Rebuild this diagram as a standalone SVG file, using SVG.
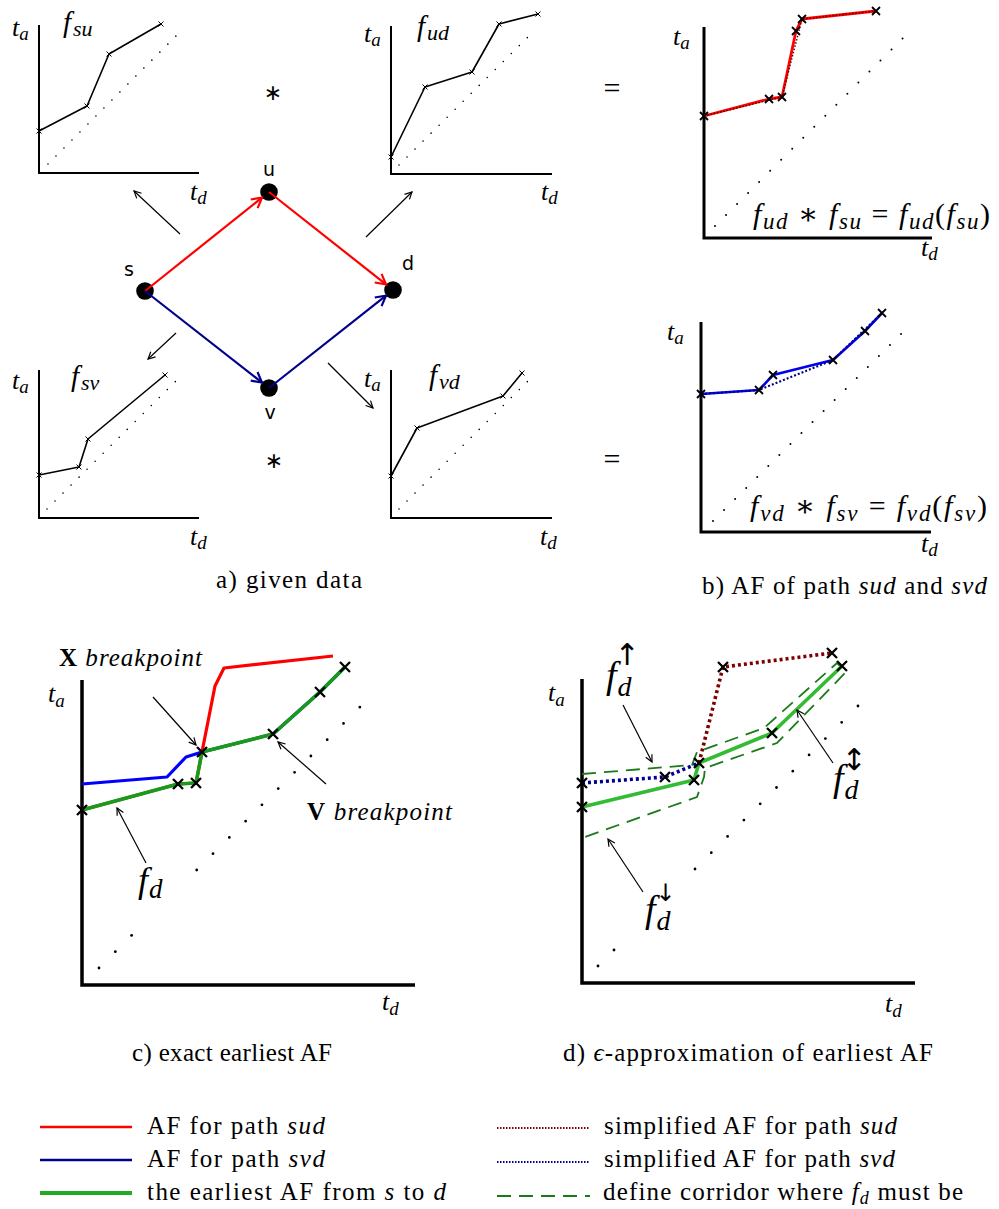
<svg xmlns="http://www.w3.org/2000/svg" xmlns:xlink="http://www.w3.org/1999/xlink" width="999" height="1209" viewBox="0 0 999 1209">
<style>
.ax{fill:none;stroke:#000}
.pl{fill:none;stroke:#000;stroke-width:1.6;stroke-linejoin:round}
.dots{fill:none;stroke:#000;stroke-linecap:round}
.m{font-family:"Liberation Serif","DejaVu Serif",serif;font-style:italic;fill:#000}
.rm{font-family:"Liberation Serif","DejaVu Serif",serif;font-style:normal;fill:#000}
.sans{font-family:"DejaVu Sans",sans-serif;font-style:normal;fill:#000}
.xs{stroke:#000;stroke-width:1;fill:none}
.xm{stroke:#000;stroke-width:1.8;fill:none}
.xl{stroke:#000;stroke-width:2.3;fill:none}
.thin{stroke:#000;stroke-width:1.2;fill:none}
</style>
<defs>
<path id="x2" d="M-2.5,-2.5L2.5,2.5M-2.5,2.5L2.5,-2.5"/>
<path id="x4" d="M-4,-4L4,4M-4,4L4,-4"/>
<path id="x5" d="M-5,-5L5,5M-5,5L5,-5"/>
<marker id="ahr" markerUnits="userSpaceOnUse" markerWidth="14" markerHeight="14" refX="11" refY="7" orient="auto"><path d="M1,1.5 L11,7 L1,12.5" fill="none" stroke="#ff0000" stroke-width="2.2"/></marker>
<marker id="ahb" markerUnits="userSpaceOnUse" markerWidth="14" markerHeight="14" refX="11" refY="7" orient="auto"><path d="M1,1.5 L11,7 L1,12.5" fill="none" stroke="#00008b" stroke-width="2.2"/></marker>
<marker id="ahk" markerUnits="userSpaceOnUse" markerWidth="10" markerHeight="10" refX="8" refY="5" orient="auto"><path d="M1,1.5 L8,5 L1,8.5" fill="none" stroke="#000" stroke-width="1.2"/></marker>
</defs>
<rect width="999" height="1209" fill="#fff"/>

<!-- panel a: f_su -->
<g id="plot-fsu">
<path class="ax" stroke-width="2" d="M39,25V173H199"/>
<path class="dots" stroke-width="1.6" stroke-dasharray="0 11.3" d="M48,164L181,31"/>
<polyline class="pl" points="39,131 87,106 109,54 161,24"/>
<g class="xs"><use xlink:href="#x2" x="39" y="131"/><use xlink:href="#x2" x="87" y="106"/><use xlink:href="#x2" x="109" y="54"/><use xlink:href="#x2" x="161" y="24"/></g>
<text class="m" x="12" y="36" font-size="26">t<tspan font-size="19" dy="4">a</tspan></text>
<text class="m" x="63" y="32" font-size="29">f<tspan font-size="22" dy="4" dx="2">su</tspan></text>
<text class="m" x="190" y="200" font-size="26">t<tspan font-size="19" dy="4">d</tspan></text>
</g>

<!-- panel a: f_ud -->
<g id="plot-fud">
<path class="ax" stroke-width="2" d="M391,26V174H552"/>
<path class="dots" stroke-width="1.6" stroke-dasharray="0 11.3" d="M399,165L533,32"/>
<polyline class="pl" points="391,157 425,87 472,72 499,24 538,14"/>
<g class="xs"><use xlink:href="#x2" x="391" y="157"/><use xlink:href="#x2" x="425" y="87"/><use xlink:href="#x2" x="472" y="72"/><use xlink:href="#x2" x="499" y="24"/><use xlink:href="#x2" x="538" y="14"/></g>
<text class="m" x="364" y="42" font-size="26">t<tspan font-size="19" dy="4">a</tspan></text>
<text class="m" x="417" y="36" font-size="29">f<tspan font-size="22" dy="4" dx="2">ud</tspan></text>
<text class="m" x="541" y="200" font-size="26">t<tspan font-size="19" dy="4">d</tspan></text>
</g>

<!-- panel a: f_sv -->
<g id="plot-fsv">
<path class="ax" stroke-width="2" d="M39,370V518H199"/>
<path class="dots" stroke-width="1.6" stroke-dasharray="0 11.3" d="M47,509L181,376"/>
<polyline class="pl" points="39,475 79,467 88,439 165,375"/>
<g class="xs"><use xlink:href="#x2" x="39" y="475"/><use xlink:href="#x2" x="79" y="467"/><use xlink:href="#x2" x="88" y="439"/><use xlink:href="#x2" x="165" y="375"/></g>
<text class="m" x="12" y="389" font-size="26">t<tspan font-size="19" dy="4">a</tspan></text>
<text class="m" x="71" y="386" font-size="29">f<tspan font-size="22" dy="4" dx="2">sv</tspan></text>
<text class="m" x="190" y="545" font-size="26">t<tspan font-size="19" dy="4">d</tspan></text>
</g>

<!-- panel a: f_vd -->
<g id="plot-fvd">
<path class="ax" stroke-width="2" d="M391,370V518H552"/>
<path class="dots" stroke-width="1.6" stroke-dasharray="0 11.3" d="M399,509L533,376"/>
<polyline class="pl" points="391,476 417,428 503,396 522,373"/>
<g class="xs"><use xlink:href="#x2" x="391" y="476"/><use xlink:href="#x2" x="417" y="428"/><use xlink:href="#x2" x="503" y="396"/><use xlink:href="#x2" x="522" y="373"/></g>
<text class="m" x="364" y="387" font-size="26">t<tspan font-size="19" dy="4">a</tspan></text>
<text class="m" x="429" y="385" font-size="29">f<tspan font-size="22" dy="4" dx="2">vd</tspan></text>
<text class="m" x="540" y="545" font-size="26">t<tspan font-size="19" dy="4">d</tspan></text>
</g>

<text class="sans" x="273" y="100" font-size="22" text-anchor="middle">∗</text>
<text class="sans" x="274" y="468" font-size="22" text-anchor="middle">∗</text>
<text class="rm" x="612" y="98" font-size="30" text-anchor="middle">=</text>
<text class="rm" x="612" y="469" font-size="30" text-anchor="middle">=</text>

<!-- graph nodes -->
<g id="node-s"><circle cx="145" cy="291" r="8.8" fill="#000"/><text class="sans" x="129" y="276" font-size="19" text-anchor="middle">s</text></g>
<g id="node-u"><circle cx="269" cy="192" r="8.8" fill="#000"/><text class="sans" x="269" y="176" font-size="19" text-anchor="middle">u</text></g>
<g id="node-d"><circle cx="393" cy="290" r="8.8" fill="#000"/><text class="sans" x="408" y="270" font-size="19" text-anchor="middle">d</text></g>
<g id="node-v"><circle cx="269" cy="388" r="8.8" fill="#000"/><text class="sans" x="270" y="419" font-size="19" text-anchor="middle">v</text></g>

<!-- connectors -->
<g id="connectors">
<line x1="145" y1="291" x2="262" y2="197.6" stroke="#ff0000" stroke-width="2.2" marker-end="url(#ahr)"/>
<line x1="269" y1="192" x2="386" y2="284.4" stroke="#ff0000" stroke-width="2.2" marker-end="url(#ahr)"/>
<line x1="145" y1="291" x2="262" y2="382.5" stroke="#00008b" stroke-width="2.2" marker-end="url(#ahb)"/>
<line x1="269" y1="388" x2="386" y2="295.6" stroke="#00008b" stroke-width="2.2" marker-end="url(#ahb)"/>
<line class="thin" x1="180" y1="234" x2="134" y2="191" marker-end="url(#ahk)"/>
<line class="thin" x1="366" y1="237" x2="412" y2="192" marker-end="url(#ahk)"/>
<line class="thin" x1="176" y1="333" x2="148" y2="359" marker-end="url(#ahk)"/>
<line class="thin" x1="328" y1="363" x2="373" y2="408" marker-end="url(#ahk)"/>
</g>

<text class="rm" x="216" y="588" font-size="25" textLength="146" lengthAdjust="spacing">a) given data</text>

<!-- panel b top -->
<g id="plot-sud">
<path class="ax" stroke-width="3" d="M704,27V238H932"/>
<path class="dots" stroke-width="2" stroke-dasharray="0 15.6" d="M715,226L906,35"/>
<polyline points="704,116 769,99 782,97 796,31 802,19 876,11" fill="none" stroke="#ff0000" stroke-width="2.8" stroke-linejoin="round"/>
<polyline points="704,116 782,97 802,19 876,11" fill="none" stroke="#500000" stroke-width="1.4" stroke-dasharray="1.5 1.8"/>
<g class="xm"><use xlink:href="#x4" x="704" y="116"/><use xlink:href="#x4" x="769" y="99"/><use xlink:href="#x4" x="782" y="97"/><use xlink:href="#x4" x="796" y="31"/><use xlink:href="#x4" x="802" y="19"/><use xlink:href="#x4" x="876" y="11"/></g>
<text class="m" x="673" y="45" font-size="26">t<tspan font-size="19" dy="4">a</tspan></text>
<text class="m" x="921" y="256" font-size="26">t<tspan font-size="19" dy="4">d</tspan></text>
<text class="m" x="753" y="224" font-size="30" textLength="237" lengthAdjust="spacing">f<tspan font-size="23" dy="5">ud</tspan><tspan class="rm" dy="-5"> ∗ </tspan>f<tspan font-size="23" dy="5">su</tspan><tspan class="rm" dy="-5"> = </tspan>f<tspan font-size="23" dy="5">ud</tspan><tspan class="rm" dy="-5">(</tspan>f<tspan font-size="23" dy="5">su</tspan><tspan class="rm" dy="-5">)</tspan></text>
</g>

<!-- panel b bottom -->
<g id="plot-svd">
<path class="ax" stroke-width="3" d="M701,322V532H931"/>
<path class="dots" stroke-width="2" stroke-dasharray="0 15.6" d="M713,521L904,331"/>
<polyline points="701,394 759,390 773,375 833,360 865,331 882,313" fill="none" stroke="#0000ee" stroke-width="2.6" stroke-linejoin="round"/>
<polyline points="701,394 759,390 833,360 882,313" fill="none" stroke="#000080" stroke-width="2" stroke-dasharray="2 2"/>
<g class="xm"><use xlink:href="#x4" x="701" y="394"/><use xlink:href="#x4" x="759" y="390"/><use xlink:href="#x4" x="773" y="375"/><use xlink:href="#x4" x="833" y="360"/><use xlink:href="#x4" x="865" y="331"/><use xlink:href="#x4" x="882" y="313"/></g>
<text class="m" x="667" y="340" font-size="26">t<tspan font-size="19" dy="4">a</tspan></text>
<text class="m" x="921" y="552" font-size="26">t<tspan font-size="19" dy="4">d</tspan></text>
<text class="m" x="750" y="516" font-size="30" textLength="237" lengthAdjust="spacing">f<tspan font-size="23" dy="5">vd</tspan><tspan class="rm" dy="-5"> ∗ </tspan>f<tspan font-size="23" dy="5">sv</tspan><tspan class="rm" dy="-5"> = </tspan>f<tspan font-size="23" dy="5">vd</tspan><tspan class="rm" dy="-5">(</tspan>f<tspan font-size="23" dy="5">sv</tspan><tspan class="rm" dy="-5">)</tspan></text>
</g>
<text class="rm" x="702" y="594" font-size="25" textLength="285" lengthAdjust="spacing">b) AF of path <tspan class="m">sud</tspan> and <tspan class="m">svd</tspan></text>

<!-- panel c -->
<g id="plot-exact">
<path class="ax" stroke-width="3.5" d="M82,680V985H415"/>
<g fill="#000"><circle cx="99" cy="968" r="1.4"/><circle cx="115.3" cy="951.7" r="1.4"/><circle cx="131.6" cy="935.4" r="1.4"/></g>
<path class="dots" stroke-width="2.8" stroke-dasharray="0 23.05" d="M196.7,870L376,691"/>
<polyline points="82,810 178,784 196,783 202,752 215,686 224,668 333,656" fill="none" stroke="#ff0000" stroke-width="3.2" stroke-linejoin="round"/>
<polyline points="82,784 167,777 186,757 202,752 273,734 320,692 345,667" fill="none" stroke="#0000ff" stroke-width="3.2" stroke-linejoin="round"/>
<polyline points="82,810 178,784 196,783 202,752 273,734 320,692 345,667" fill="none" stroke="#1a9a1a" stroke-width="3.6" stroke-linejoin="round"/>
<g class="xl"><use xlink:href="#x5" x="82" y="810"/><use xlink:href="#x5" x="178" y="784"/><use xlink:href="#x5" x="196" y="783"/><use xlink:href="#x5" x="202" y="752"/><use xlink:href="#x5" x="273" y="734"/><use xlink:href="#x5" x="320" y="692"/><use xlink:href="#x5" x="345" y="667"/></g>
<text class="m" x="48" y="702" font-size="26">t<tspan font-size="19" dy="5">a</tspan></text>
<text class="m" x="382" y="1010" font-size="26">t<tspan font-size="19" dy="5">d</tspan></text>
<text x="59" y="666" font-size="25" textLength="143" lengthAdjust="spacing"><tspan class="rm" font-weight="bold">X</tspan><tspan class="m"> breakpoint</tspan></text>
<text x="307" y="820" font-size="25" textLength="145" lengthAdjust="spacing"><tspan class="rm" font-weight="bold">V</tspan><tspan class="m"> breakpoint</tspan></text>
<text class="m" x="138" y="892" font-size="36">f<tspan font-size="27" dy="6" dx="1">d</tspan></text>
<line class="thin" x1="153" y1="697" x2="196" y2="745" marker-end="url(#ahk)"/>
<line class="thin" x1="326" y1="784" x2="278" y2="742" marker-end="url(#ahk)"/>
<line class="thin" x1="146" y1="863" x2="117" y2="808" marker-end="url(#ahk)"/>
</g>
<text class="rm" x="232" y="1061" font-size="25" text-anchor="middle" textLength="200" lengthAdjust="spacing">c) exact earliest AF</text>

<!-- panel d -->
<g id="plot-approx">
<path class="ax" stroke-width="3.5" d="M582,679V983H915"/>
<g fill="#000"><circle cx="598" cy="966" r="1.4"/><circle cx="614" cy="950" r="1.4"/></g>
<path class="dots" stroke-width="2.8" stroke-dasharray="0 23.05" d="M695,869L874,690"/>
<path d="M582,774L692,765L697,752L764,728L837,663L846,672L777,743L705,768L704,777L697,797L582,838" fill="none" stroke="#1a7a1a" stroke-width="1.8" stroke-dasharray="14 8"/>
<polyline points="582,807 694,780 699,763 772,733 842,666" fill="none" stroke="#33bb33" stroke-width="3.6" stroke-linejoin="round"/>
<polyline points="582,783 665,777 699,763" fill="none" stroke="#000090" stroke-width="3.6" stroke-dasharray="3 3"/>
<polyline points="699,763 723,667 832,653" fill="none" stroke="#800000" stroke-width="3.6" stroke-dasharray="3 3"/>
<g class="xl"><use xlink:href="#x5" x="582" y="807"/><use xlink:href="#x5" x="582" y="783"/><use xlink:href="#x5" x="665" y="777"/><use xlink:href="#x5" x="694" y="780"/><use xlink:href="#x5" x="699" y="763"/><use xlink:href="#x5" x="772" y="733"/><use xlink:href="#x5" x="723" y="667"/><use xlink:href="#x5" x="832" y="653"/><use xlink:href="#x5" x="842" y="666"/></g>
<text class="m" x="548" y="701" font-size="26">t<tspan font-size="19" dy="5">a</tspan></text>
<text class="m" x="885" y="1012" font-size="26">t<tspan font-size="19" dy="5">d</tspan></text>
<text class="m" x="606" y="688" font-size="38">f<tspan font-size="28" dy="8" dx="1">d</tspan><tspan class="sans" font-size="30" dx="-17" dy="-31">↑</tspan></text>
<text class="m" x="645" y="922" font-size="38">f<tspan font-size="28" dy="8" dx="1">d</tspan><tspan class="sans" font-size="24" dx="-15" dy="-29">↓</tspan></text>
<text class="m" x="833" y="791" font-size="38">f<tspan font-size="28" dy="8" dx="1">d</tspan><tspan class="sans" font-size="30" dx="-17" dy="-29">↕</tspan></text>
<line class="thin" x1="623" y1="705" x2="652" y2="762" marker-end="url(#ahk)"/>
<line class="thin" x1="643" y1="892" x2="608" y2="839" marker-end="url(#ahk)"/>
<line class="thin" x1="833" y1="763" x2="797" y2="710" marker-end="url(#ahk)"/>
</g>
<text class="rm" x="748" y="1061" font-size="25" text-anchor="middle" textLength="370" lengthAdjust="spacing">d) <tspan class="m">ϵ</tspan>-approximation of earliest AF</text>

<!-- legend -->
<g id="legend">
<line x1="40" y1="1127" x2="132" y2="1127" stroke="#ff0000" stroke-width="2.5"/>
<line x1="40" y1="1160" x2="132" y2="1160" stroke="#00008b" stroke-width="2.5"/>
<line x1="40" y1="1193" x2="132" y2="1193" stroke="#22aa22" stroke-width="4"/>
<text class="rm" x="147" y="1134" font-size="25" textLength="178" lengthAdjust="spacing">AF for path <tspan class="m">sud</tspan></text>
<text class="rm" x="147" y="1167" font-size="25" textLength="178" lengthAdjust="spacing">AF for path <tspan class="m">svd</tspan></text>
<text class="rm" x="147" y="1200" font-size="25" textLength="299" lengthAdjust="spacing">the earliest AF from <tspan class="m">s</tspan> to <tspan class="m">d</tspan></text>
<line x1="497" y1="1128" x2="589" y2="1128" stroke="#800000" stroke-width="2" stroke-dasharray="1.5 1.5"/>
<line x1="497" y1="1162" x2="589" y2="1162" stroke="#000090" stroke-width="2" stroke-dasharray="1.5 1.5"/>
<line x1="497" y1="1196" x2="590" y2="1196" stroke="#1a7a1a" stroke-width="2" stroke-dasharray="14 8"/>
<text class="rm" x="604" y="1134" font-size="25" textLength="293" lengthAdjust="spacing">simplified AF for path <tspan class="m">sud</tspan></text>
<text class="rm" x="604" y="1167" font-size="25" textLength="291" lengthAdjust="spacing">simplified AF for path <tspan class="m">svd</tspan></text>
<text class="rm" x="603" y="1200" font-size="25" textLength="360" lengthAdjust="spacing">define corridor where <tspan class="m">f<tspan font-size="18" dy="4">d</tspan></tspan><tspan dy="-4"> must be</tspan></text>
</g>
</svg>
